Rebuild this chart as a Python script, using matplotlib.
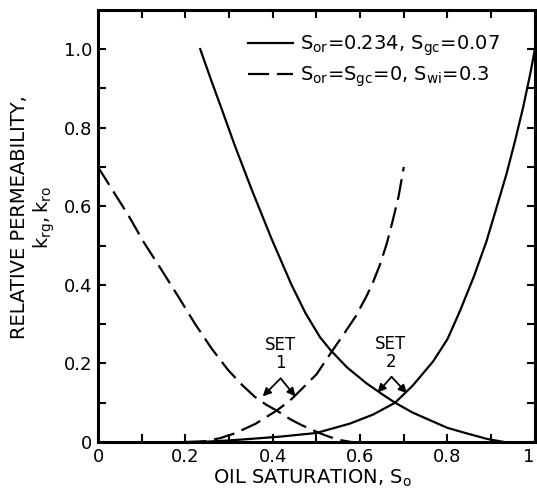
import numpy as np
import matplotlib
matplotlib.use("Agg")
import matplotlib.pyplot as plt

plt.rcParams['font.family'] = ['DejaVu Sans']
plt.rcParams['mathtext.default'] = 'regular'

# Set 1 (dashed): S_or = S_gc = 0, S_wi = 0.3
so_krg1 = [0.00, 0.035, 0.069, 0.105, 0.146, 0.185, 0.222, 0.26, 0.298, 0.33, 0.359, 0.385, 0.409, 0.44, 0.466, 0.504, 0.53, 0.554, 0.58]
krg1 = [0.700, 0.638, 0.578, 0.508, 0.437, 0.368, 0.301, 0.238, 0.183, 0.145, 0.115, 0.095, 0.080, 0.058, 0.043, 0.024, 0.013, 0.005, 0.0]

so_kro1 = [0.20, 0.245, 0.28, 0.313, 0.36, 0.409, 0.44, 0.462, 0.50, 0.535, 0.561, 0.59, 0.615, 0.63, 0.645, 0.661, 0.675, 0.688, 0.70]
kro1 = [0.0, 0.002, 0.010, 0.022, 0.046, 0.080, 0.106, 0.130, 0.172, 0.230, 0.272, 0.320, 0.372, 0.408, 0.450, 0.505, 0.565, 0.625, 0.700]

# Set 2 (solid): S_or = 0.234, S_gc = 0.07
so_krg2 = [0.234, 0.26, 0.283, 0.313, 0.352, 0.397, 0.443, 0.475, 0.508, 0.533, 0.57, 0.615, 0.65, 0.680, 0.72, 0.767, 0.80, 0.844, 0.89, 0.93]
krg2 = [1.0, 0.918, 0.848, 0.755, 0.642, 0.518, 0.400, 0.328, 0.267, 0.233, 0.190, 0.149, 0.122, 0.100, 0.075, 0.052, 0.036, 0.022, 0.008, 0.0]

so_kro2 = [0.234, 0.30, 0.35, 0.42, 0.50, 0.577, 0.63, 0.680, 0.72, 0.767, 0.80, 0.828, 0.86, 0.889, 0.91, 0.935, 0.955, 0.973, 0.99, 1.0]
kro2 = [0.0, 0.004, 0.008, 0.014, 0.023, 0.047, 0.070, 0.100, 0.143, 0.205, 0.262, 0.332, 0.420, 0.510, 0.588, 0.682, 0.768, 0.851, 0.940, 1.0]

x_ticks = [0.0, 0.1, 0.2, 0.3, 0.4, 0.5, 0.6, 0.7, 0.8, 0.9, 1.0]
x_ticklabels = ['0', '', '0.2', '', '0.4', '', '0.6', '', '0.8', '', '1']
y_ticks = [0.0, 0.1, 0.2, 0.3, 0.4, 0.5, 0.6, 0.7, 0.8, 0.9, 1.0]
y_ticklabels = ['0', '', '0.2', '', '0.4', '', '0.6', '', '0.8', '', '1.0']

legend_labels = [r'$\mathrm{S_{or}}$=0.234, $\mathrm{S_{gc}}$=0.07',
                 r'$\mathrm{S_{or}}$=$\mathrm{S_{gc}}$=0, $\mathrm{S_{wi}}$=0.3']

set_labels = ['SET\n1', 'SET\n2']
set_text_pos = [(0.418, 0.225), (0.670, 0.227)]
set_apex = [(0.418, 0.162), (0.672, 0.166)]
set_tips = [[(0.377, 0.116), (0.452, 0.116)], [(0.640, 0.126), (0.707, 0.124)]]

fig = plt.figure(figsize=(5.37, 4.92), dpi=100)
ax = fig.add_axes([0.1825, 0.1016, 0.8135, 0.8784])

lw = 1.6
dash = (9.5, 3.5)
l1, = ax.plot(so_krg2, krg2, color='black', lw=lw)
ax.plot(so_kro2, kro2, color='black', lw=lw)
l2, = ax.plot(so_krg1, krg1, color='black', lw=lw, dashes=dash)
ax.plot(so_kro1, kro1, color='black', lw=lw, dashes=dash)

ax.set_xlim(0, 1.0)
ax.set_ylim(0, 1.1)
ax.set_xticks(x_ticks)
ax.set_xticklabels(x_ticklabels)
ax.set_yticks(y_ticks)
ax.set_yticklabels(y_ticklabels)
ax.tick_params(direction='in', length=6, width=1.5, top=True, right=True,
               labelsize=13, pad=4)
ax.get_xticklabels()[-1].set_horizontalalignment('right')
for s in ax.spines.values():
    s.set_linewidth(2.2)

ax.set_xlabel(r'OIL SATURATION, $\mathrm{S_o}$', fontsize=14)
ax.xaxis.set_label_coords(0.49, -0.06)
ax.set_ylabel('RELATIVE PERMEABILITY,\n' + r'$\mathrm{k_{rg}, k_{ro}}$', fontsize=14,
              linespacing=1.1)
ax.yaxis.set_label_coords(-0.095, 0.52)

leg = ax.legend([l1, l2], legend_labels, loc='upper left', bbox_to_anchor=(0.343, 0.945),
                frameon=False, fontsize=14, handlelength=2.3, handletextpad=0.4,
                borderpad=0, borderaxespad=0, labelspacing=0.35)

for lab, tp, apex, tips in zip(set_labels, set_text_pos, set_apex, set_tips):
    ax.text(tp[0], tp[1], lab, ha='center', va='center', fontsize=12, linespacing=1.0)
    for tip in tips:
        ax.annotate('', xy=tip, xytext=apex,
                    arrowprops=dict(arrowstyle='-|>', color='black', lw=1.3,
                                    mutation_scale=12, shrinkA=0, shrinkB=0))

fig.savefig('out.png', dpi=100)
